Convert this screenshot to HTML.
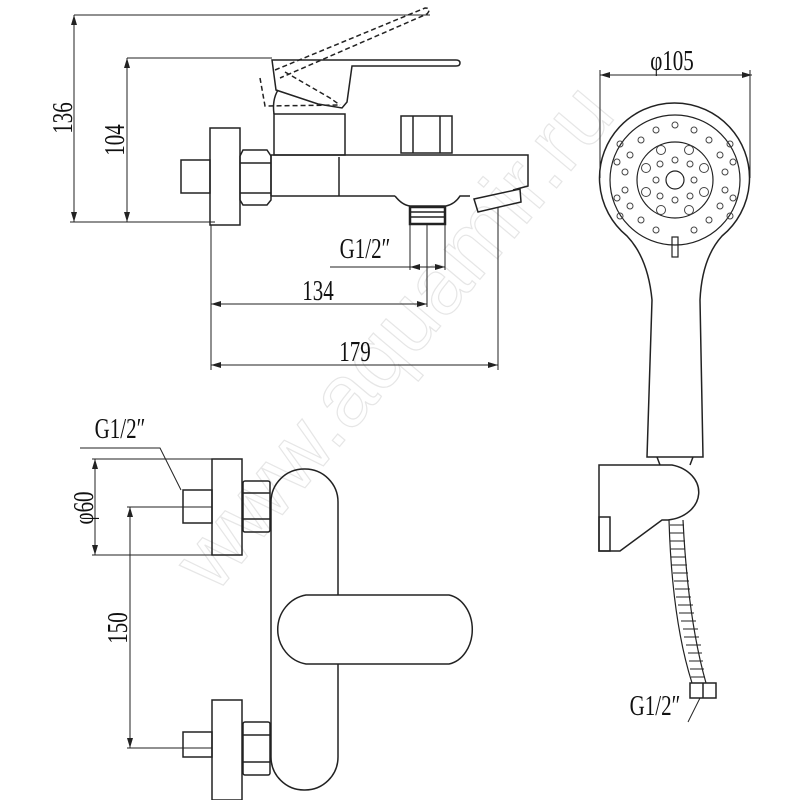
<!DOCTYPE html>
<html><head><meta charset="utf-8"><style>
html,body{margin:0;padding:0;background:#fff;}
svg{display:block}
text{font-family:"Liberation Serif",serif;font-size:28px;fill:#111;}
</style></head><body>
<svg width="800" height="800" viewBox="0 0 800 800" xmlns="http://www.w3.org/2000/svg">
<defs>
<marker id="a" viewBox="0 0 10 6" refX="10" refY="3" markerWidth="10" markerHeight="6" orient="auto-start-reverse" markerUnits="userSpaceOnUse"><path d="M0,0 L10,3 L0,6 z" fill="#222"/></marker>
</defs>
<!-- watermark -->
<text x="0" y="0" transform="translate(215,595) rotate(-50)" style="font-family:'Liberation Sans',sans-serif;font-size:88px;fill:none;stroke:#e6e6e6;stroke-width:1.2">www.aquamir.ru</text>

<g fill="none" stroke="#222" stroke-width="1.5">
<line x1="74" y1="15" x2="430" y2="15" stroke-width="1"/>
<line x1="70" y1="222" x2="215" y2="222" stroke-width="1"/>
<line x1="74" y1="15" x2="74" y2="222" stroke-width="1" marker-start="url(#a)" marker-end="url(#a)"/>
<line x1="127" y1="58" x2="272" y2="58" stroke-width="1"/>
<line x1="127" y1="58" x2="127" y2="222" stroke-width="1" marker-start="url(#a)" marker-end="url(#a)"/>
<path d="M272,60 L456,60 Q460,60 460,63 Q460,66 456,66 L352,66 L347,102 L342,108 L318,104 L276,90 Z"/>
<path d="M278,90 Q272,100 274,114"/>
<path d="M260,78 L265,106 L340,105" stroke-dasharray="5,3"/>
<path d="M275,70 L425,8 Q432,8 427,14 L280,78" stroke-dasharray="5,3"/>
<path d="M285,72 L330,98 L340,105" stroke-dasharray="5,3"/>
<rect x="274" y="114" width="71" height="41"/>
<rect x="181" y="160" width="29" height="33"/>
<rect x="210" y="128" width="30" height="97"/>
<path d="M243,150 L267,150 L271,156 L271,200 L267,205 L243,205 L240,200 L240,156 Z"/>
<line x1="240" y1="163" x2="271" y2="163"/><line x1="240" y1="193" x2="271" y2="193"/>
<path d="M271,155 L528,155 L528,186 L513,190 M271,196 L395,196"/>
<line x1="339" y1="157" x2="339" y2="196"/>
<line x1="271" y1="155" x2="271" y2="196"/>
<rect x="401" y="116" width="51" height="37"/>
<line x1="413" y1="116" x2="413" y2="153"/><line x1="440" y1="116" x2="440" y2="153"/>
<path d="M395,196 Q402,205 410,206 L446,206 Q455,204 460,196 L470,196"/>
<rect x="410" y="207" width="35" height="17" stroke-width="2.5"/>
<line x1="410" y1="212" x2="445" y2="212"/><line x1="410" y1="217" x2="445" y2="217"/>
<path d="M474,199 L520,189 L521,202 L478,212 Z"/>
<line x1="330" y1="267" x2="410" y2="267" stroke-width="1"/>
<line x1="410" y1="267" x2="445" y2="267" stroke-width="1" marker-start="url(#a)" marker-end="url(#a)"/>
<line x1="410" y1="224" x2="410" y2="270" stroke-width="1"/>
<line x1="445" y1="224" x2="445" y2="270" stroke-width="1"/>
<line x1="427" y1="224" x2="427" y2="307" stroke-width="1"/>
<line x1="211" y1="225" x2="211" y2="370" stroke-width="1"/>
<line x1="498" y1="208" x2="498" y2="370" stroke-width="1"/>
<line x1="211" y1="304" x2="427" y2="304" stroke-width="1" marker-start="url(#a)" marker-end="url(#a)"/>
<line x1="211" y1="365" x2="498" y2="365" stroke-width="1" marker-start="url(#a)" marker-end="url(#a)"/>

<line x1="600" y1="75" x2="752" y2="75" stroke-width="1" marker-start="url(#a)" marker-end="url(#a)"/>
<line x1="600" y1="70" x2="600" y2="178" stroke-width="1"/>
<line x1="750" y1="70" x2="750" y2="178" stroke-width="1"/>
<path d="M627,236 A75,75 0 1 1 722,236 Q702,258 700,300 L703,457 L647,457 L652,300 Q648,258 627,236 Z"/>
<circle cx="675" cy="180" r="65" stroke-width="1.2"/>
<circle cx="675" cy="180" r="38" stroke-width="1.2"/>
<circle cx="675" cy="180" r="9" stroke-width="1.2"/>
<rect x="672" y="237" width="6" height="20" stroke-width="1.2"/>
<path d="M657,457 L660,465 M693,457 L690,465"/>
<path d="M599,465 L672,465 A35,28 0 0 1 668,520 L662,520 L620,551 L599,551 Z"/>
<rect x="599" y="517" width="11" height="34"/>
<path d="M669,520 Q672,620 692,683 M683,520 Q688,620 706,683" stroke-width="1.2"/>
<path d="M670,525 L684,525 M670,533 L684,533 M670,541 L685,541 M671,549 L685,549 M671,557 L686,557 M672,565 L687,565 M673,573 L688,573 M674,581 L689,581 M675,589 L690,589 M676,597 L691,597 M678,605 L693,605 M679,613 L694,613 M681,621 L696,621 M683,629 L698,629 M684,637 L699,637 M686,645 L701,645 M688,653 L702,653 M689,661 L703,661 M690,669 L704,669 M691,677 L705,677" stroke-width="1"/>
<rect x="690" y="683" width="26" height="15"/>
<line x1="703" y1="683" x2="703" y2="698"/>
<line x1="700" y1="698" x2="688" y2="722" stroke-width="1"/>

<line x1="92" y1="459" x2="212" y2="459" stroke-width="1"/>
<line x1="92" y1="555" x2="212" y2="555" stroke-width="1"/>
<line x1="95" y1="459" x2="95" y2="555" stroke-width="1" marker-start="url(#a)" marker-end="url(#a)"/>
<line x1="127" y1="507" x2="212" y2="507" stroke-width="1"/>
<line x1="127" y1="748" x2="212" y2="748" stroke-width="1"/>
<line x1="130" y1="507" x2="130" y2="748" stroke-width="1" marker-start="url(#a)" marker-end="url(#a)"/>
<path d="M80,448 L160,448 L181,490" stroke-width="1"/>
<rect x="183" y="490" width="29" height="33"/>
<rect x="212" y="459" width="30" height="96"/>
<rect x="243" y="481" width="27" height="51" rx="2"/>
<line x1="243" y1="493" x2="270" y2="493"/><line x1="243" y1="519" x2="270" y2="519"/>
<rect x="271" y="469" width="67" height="321" rx="33"/>
<path d="M449,595 L306,595 A34,35 0 0 0 306,664 L449,664 A28,35 0 0 0 449,595 Z" fill="#fff"/>
<rect x="183" y="732" width="29" height="25"/>
<rect x="212" y="700" width="30" height="100"/>
<rect x="243" y="722" width="27" height="53" rx="2"/>
<line x1="243" y1="735" x2="270" y2="735"/><line x1="243" y1="762" x2="270" y2="762"/>
</g>
<g fill="none" stroke="#444" stroke-width="1">
<circle cx="656" cy="130" r="3"/><circle cx="675" cy="125" r="3"/><circle cx="694" cy="130" r="3"/>
<circle cx="641" cy="140" r="3"/><circle cx="709" cy="140" r="3"/>
<circle cx="630" cy="155" r="3"/><circle cx="720" cy="155" r="3"/>
<circle cx="625" cy="172" r="3"/><circle cx="725" cy="172" r="3"/>
<circle cx="625" cy="190" r="3"/><circle cx="725" cy="190" r="3"/>
<circle cx="630" cy="206" r="3"/><circle cx="720" cy="206" r="3"/>
<circle cx="641" cy="220" r="3"/><circle cx="709" cy="220" r="3"/>
<circle cx="656" cy="230" r="3"/><circle cx="694" cy="230" r="3"/>
<circle cx="617" cy="162" r="3"/><circle cx="733" cy="162" r="3"/><circle cx="617" cy="198" r="3"/><circle cx="733" cy="198" r="3"/>
<circle cx="620" cy="144" r="3"/><circle cx="730" cy="144" r="3"/><circle cx="620" cy="216" r="3"/><circle cx="730" cy="216" r="3"/>
<circle cx="660" cy="164" r="3"/><circle cx="690" cy="164" r="3"/><circle cx="660" cy="196" r="3"/><circle cx="690" cy="196" r="3"/>
<circle cx="675" cy="160" r="3"/><circle cx="675" cy="200" r="3"/><circle cx="656" cy="180" r="3"/><circle cx="694" cy="180" r="3"/>
<circle cx="661" cy="150" r="4.5"/><circle cx="689" cy="150" r="4.5"/><circle cx="661" cy="210" r="4.5"/><circle cx="689" cy="210" r="4.5"/>
<circle cx="646" cy="168" r="4.5"/><circle cx="704" cy="168" r="4.5"/><circle cx="646" cy="192" r="4.5"/><circle cx="704" cy="192" r="4.5"/>
</g>
<text transform="translate(72,118) rotate(-90) scale(0.75,1)" text-anchor="middle">136</text>
<text transform="translate(124,140) rotate(-90) scale(0.75,1)" text-anchor="middle">104</text>
<text transform="translate(365,258) scale(0.75,1)" text-anchor="middle">G1/2″</text>
<text transform="translate(318,300) scale(0.75,1)" text-anchor="middle">134</text>
<text transform="translate(355,361) scale(0.75,1)" text-anchor="middle">179</text>
<text transform="translate(672,70) scale(0.75,1)" text-anchor="middle">φ105</text>
<text transform="translate(120,438) scale(0.75,1)" text-anchor="middle">G1/2″</text>
<text transform="translate(93,508) rotate(-90) scale(0.75,1)" text-anchor="middle">φ60</text>
<text transform="translate(127,628) rotate(-90) scale(0.75,1)" text-anchor="middle">150</text>
<text transform="translate(655,715) scale(0.75,1)" text-anchor="middle">G1/2″</text>
</svg>
</body></html>
